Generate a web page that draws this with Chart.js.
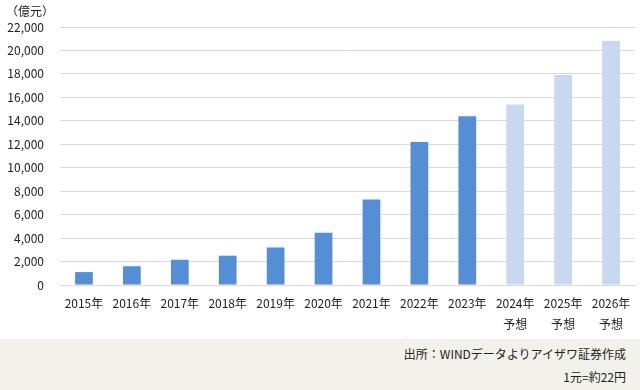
<!DOCTYPE html>
<html lang="ja">
<head>
<meta charset="utf-8">
<script src="https://cdn.jsdelivr.net/npm/chart.js@4"></script>
<style>
    body { margin: 0; width: 640px; height: 390px; background: #fff; font-family: "Noto Sans CJK JP", sans-serif; overflow: hidden; }
    .wrap { position: relative; width: 640px; height: 339px; }
    .unit { position: absolute; left: 6px; top: 2px; font-size: 12px; color: #222; }
    .footer { position: absolute; left: 0; top: 339px; width: 640px; height: 51px; background: #f3f2ea; }
    .footer p { margin: 0; position: absolute; right: 14px; font-size: 12px; color: #222; }
</style>
</head>
<body>
<div class="wrap">
    <canvas id="marketChart" width="640" height="339"></canvas>
    <div class="unit">（億元）</div>
</div>
<div class="footer">
    <p style="top:6px">出所：WINDデータよりアイザワ証券作成</p>
    <p style="top:29px">1元=約22円</p>
</div>
<script>
// Data
const years = ['2015年', '2016年', '2017年', '2018年', '2019年', '2020年', '2021年', '2022年', '2023年', '2024年', '2025年', '2026年'];
const forecastFlags = [false, false, false, false, false, false, false, false, false, true, true, true];
const marketSize = [1100, 1600, 2150, 2500, 3200, 4450, 7300, 12200, 14400, 15400, 17900, 20800];
const yTicks = [0, 2000, 4000, 6000, 8000, 10000, 12000, 14000, 16000, 18000, 20000, 22000];

const actualColor = '#558ed5';
const forecastColor = '#c6d9f1';

document.addEventListener('DOMContentLoaded', function() {
    initMarketChart();
});

/**
 * Bar chart of market size, forecast years in light blue
 */
function initMarketChart() {
    const ctx = document.getElementById('marketChart').getContext('2d');
    const labels = years.map((y, i) => forecastFlags[i] ? [y, '予想'] : y);
    const colors = forecastFlags.map(f => f ? forecastColor : actualColor);

    new Chart(ctx, {
        type: 'bar',
        data: {
            labels: labels,
            datasets: [{
                data: marketSize,
                backgroundColor: colors,
                borderWidth: 0,
                categoryPercentage: 1,
                barPercentage: 0.37
            }]
        },
        options: {
            responsive: false,
            animation: false,
            layout: { padding: { top: 27, right: 5, left: 0, bottom: 0 } },
            plugins: {
                legend: { display: false },
                tooltip: { enabled: false }
            },
            scales: {
                x: {
                    grid: { display: false, drawTicks: false },
                    border: { color: '#d9d9d9' },
                    ticks: {
                        color: '#222',
                        font: { family: '"Noto Sans CJK JP", sans-serif', size: 12, lineHeight: 1.75 },
                        padding: 8,
                        maxRotation: 0,
                        autoSkip: false
                    },
                    afterFit: function(scale) { scale.height = 54; }
                },
                y: {
                    min: 0,
                    max: 22000,
                    afterBuildTicks: function(scale) {
                        scale.ticks = yTicks.map(v => ({ value: v }));
                    },
                    grid: { color: '#d9d9d9', drawTicks: false },
                    border: { display: false },
                    ticks: {
                        color: '#222',
                        font: { family: '"Noto Sans CJK JP", sans-serif', size: 12 },
                        padding: 16,
                        callback: v => v.toLocaleString('en-US')
                    },
                    afterFit: function(scale) { scale.width = 60; }
                }
            }
        }
    });
}
</script>
</body>
</html>
